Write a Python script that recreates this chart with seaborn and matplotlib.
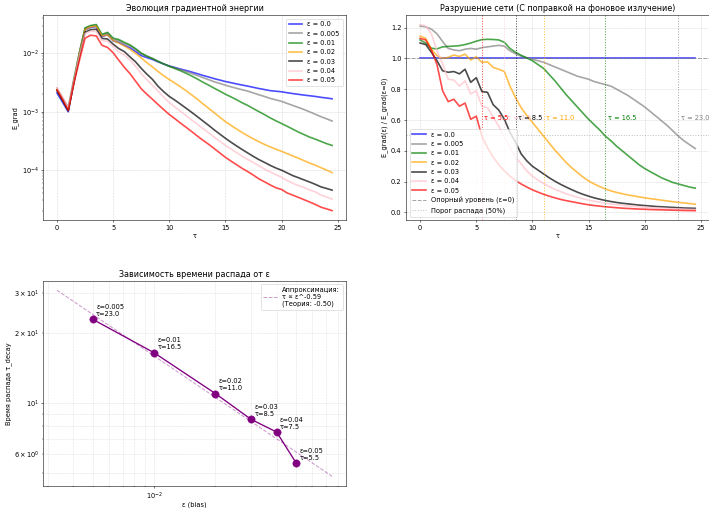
import numpy as np
import pandas as pd
import seaborn as sns
import matplotlib.pyplot as plt

# time grid (tau) and energies
tau = np.arange(0, 25, 0.5)

# E_grad for eps = 0 (baseline, blue line in the left panel)
e_grad_base = [2.1e-3, 1.45e-3, 1.0e-3, 3.2e-3, 9.7e-3, 2.55e-2, 2.8e-2, 2.9e-2, 1.95e-2, 2.1e-2,
               1.65e-2, 1.55e-2, 1.38e-2, 1.25e-2, 1.08e-2, 9.2e-3, 8.5e-3, 7.9e-3, 7.2e-3, 6.6e-3,
               6.1e-3, 5.75e-3, 5.4e-3, 5.1e-3, 4.8e-3, 4.5e-3, 4.2e-3, 3.95e-3, 3.7e-3, 3.5e-3,
               3.3e-3, 3.15e-3, 3.0e-3, 2.87e-3, 2.75e-3, 2.62e-3, 2.5e-3, 2.4e-3, 2.3e-3, 2.25e-3,
               2.2e-3, 2.12e-3, 2.05e-3, 1.99e-3, 1.93e-3, 1.88e-3, 1.83e-3, 1.77e-3, 1.72e-3, 1.67e-3]

# ratio E_grad(eps) / E_grad(eps=0)
ratio_0 = [1.0] * 50
ratio_0005 = [1.21, 1.205, 1.19, 1.16, 1.11, 1.065, 1.055, 1.05, 1.06, 1.065,
              1.06, 1.07, 1.075, 1.08, 1.085, 1.08, 1.05, 1.03, 1.015, 1.005,
              0.995, 0.985, 0.975, 0.96, 0.945, 0.93, 0.915, 0.9, 0.885, 0.875,
              0.865, 0.85, 0.84, 0.83, 0.82, 0.80, 0.78, 0.76, 0.735, 0.71,
              0.685, 0.655, 0.625, 0.595, 0.565, 0.53, 0.495, 0.465, 0.44, 0.415]
ratio_001 = [1.12, 1.10, 1.066, 1.062, 1.075, 1.078, 1.08, 1.083, 1.09, 1.10,
             1.112, 1.122, 1.124, 1.123, 1.12, 1.105, 1.065, 1.04, 1.02, 1.003,
             0.985, 0.96, 0.935, 0.895, 0.855, 0.81, 0.765, 0.725, 0.685, 0.645,
             0.605, 0.57, 0.535, 0.495, 0.465, 0.43, 0.40, 0.37, 0.34, 0.31,
             0.285, 0.265, 0.245, 0.225, 0.21, 0.195, 0.185, 0.175, 0.165, 0.158]
ratio_002 = [1.145, 1.13, 1.06, 1.018, 1.0, 1.007, 1.022, 1.013, 1.028, 0.99,
             1.011, 0.974, 0.978, 0.942, 0.93, 0.915, 0.82, 0.745, 0.68, 0.63,
             0.585, 0.54, 0.495, 0.45, 0.405, 0.365, 0.325, 0.29, 0.26, 0.23,
             0.205, 0.185, 0.168, 0.153, 0.14, 0.13, 0.122, 0.114, 0.108, 0.101,
             0.095, 0.09, 0.085, 0.08, 0.075, 0.07, 0.066, 0.062, 0.058, 0.054]
ratio_003 = [1.10, 1.09, 1.04, 0.985, 0.92, 0.91, 0.915, 0.9, 0.93, 0.845,
             0.875, 0.785, 0.78, 0.70, 0.665, 0.605, 0.52, 0.455, 0.38, 0.335,
             0.30, 0.275, 0.25, 0.225, 0.203, 0.183, 0.165, 0.148, 0.132, 0.118,
             0.106, 0.095, 0.086, 0.078, 0.071, 0.065, 0.06, 0.056, 0.052, 0.048,
             0.045, 0.042, 0.039, 0.037, 0.035, 0.033, 0.031, 0.029, 0.028, 0.027]
ratio_004 = [1.22, 1.21, 1.16, 1.05, 0.965, 0.865, 0.86, 0.82, 0.855, 0.77,
             0.79, 0.69, 0.68, 0.62, 0.56, 0.49, 0.42, 0.36, 0.315, 0.27,
             0.235, 0.21, 0.188, 0.168, 0.15, 0.136, 0.122, 0.11, 0.099, 0.089,
             0.08, 0.073, 0.066, 0.06, 0.055, 0.051, 0.047, 0.043, 0.04, 0.037,
             0.034, 0.031, 0.029, 0.027, 0.026, 0.024, 0.023, 0.021, 0.02, 0.019]
ratio_005 = [1.13, 1.12, 1.055, 0.96, 0.79, 0.72, 0.735, 0.69, 0.71, 0.605,
             0.625, 0.495, 0.42, 0.36, 0.31, 0.27, 0.235, 0.207, 0.185, 0.165,
             0.147, 0.132, 0.118, 0.106, 0.095, 0.085, 0.077, 0.07, 0.063, 0.056,
             0.05, 0.045, 0.041, 0.037, 0.034, 0.031, 0.028, 0.026, 0.024, 0.022,
             0.021, 0.019, 0.018, 0.017, 0.016, 0.015, 0.014, 0.013, 0.0125, 0.012]

eps_values = [0.0, 0.005, 0.01, 0.02, 0.03, 0.04, 0.05]
ratios = [ratio_0, ratio_0005, ratio_001, ratio_002, ratio_003, ratio_004, ratio_005]
colors = ['blue', 'gray', 'green', 'orange', 'black', 'pink', 'red']

# decay times (first tau where ratio < 0.5)
decay_eps = [0.005, 0.01, 0.02, 0.03, 0.04, 0.05]
decay_tau = [23.0, 16.5, 11.0, 8.5, 7.5, 5.5]

rows = []
for eps, r in zip(eps_values, ratios):
    for t, e0, rv in zip(tau, e_grad_base, r):
        rows.append({'tau': t, 'eps': eps, 'ratio': rv, 'E_grad': e0 * rv})
df = pd.DataFrame(rows)

dpi = 48
fig, axes = plt.subplots(2, 2, figsize=(709 / dpi, 508 / dpi), dpi=dpi)
fig.subplots_adjust(left=0.061, right=1.0, top=0.970, bottom=0.044, wspace=0.2, hspace=0.298)

# 1. energy evolution
ax = axes[0, 0]
for eps, c in zip(eps_values, colors):
    d = df[df['eps'] == eps]
    sns.lineplot(x=d['tau'], y=d['E_grad'], color=c, linewidth=2.5, alpha=0.7,
                 label=f'ε = {eps}', ax=ax)
ax.set_yscale('log')
ax.set_title('Эволюция градиентной энергии')
ax.set_xlabel('τ')
ax.set_ylabel('E_grad')
ax.grid(True, linestyle='--', alpha=0.5)
ax.legend(loc='upper right')

# 2. network breakdown (ratio)
ax = axes[0, 1]
for eps, c in zip(eps_values, colors):
    d = df[df['eps'] == eps]
    sns.lineplot(x=d['tau'], y=d['ratio'], color=c, linewidth=2.5, alpha=0.7,
                 label=f'ε = {eps}', ax=ax)
ax.axhline(1.0, color='gray', linestyle='--', alpha=0.7, label='Опорный уровень (ε=0)')
ax.axhline(0.5, color='gray', linestyle=':', alpha=0.5, label='Порог распада (50%)')
for eps, t in zip(decay_eps, decay_tau):
    c = colors[eps_values.index(eps)]
    ax.axvline(t, color=c, linestyle=':', alpha=0.7)
    ax.text(t + 0.2, 0.6, f'τ = {t}', color=c, fontsize=10)
ax.set_title('Разрушение сети (С поправкой на фоновое излучение)')
ax.set_xlabel('τ')
ax.set_ylabel('E_grad(ε) / E_grad(ε=0)')
ax.grid(True, linestyle='--', alpha=0.5)
ax.legend(loc='lower left')

# 3. decay time vs eps
ax = axes[1, 0]
sns.lineplot(x=decay_eps, y=decay_tau, color='purple', marker='o', markersize=11,
             markeredgecolor='purple', linewidth=2, ax=ax)
coef = np.polyfit(np.log(decay_eps), np.log(decay_tau), 1)
eps_fit = np.logspace(np.log10(min(decay_eps) / 1.5), np.log10(max(decay_eps) * 1.5), 50)
tau_fit = np.exp(coef[1]) * eps_fit ** coef[0]
ax.plot(eps_fit, tau_fit, '--', color='purple', alpha=0.4, linewidth=1.5,
        label=f'Аппроксимация:\nτ ∝ ε^{coef[0]:.2f}\n(Теория: -0.50)')
for e, t in zip(decay_eps, decay_tau):
    ax.annotate(f'ε={e}\nτ={t}', (e, t), xytext=(5, 5), textcoords='offset points', fontsize=10)
ax.set_xscale('log')
ax.set_yscale('log')
ax.set_title('Зависимость времени распада от ε')
ax.set_xlabel('ε (bias)', labelpad=0.5)
ax.set_ylabel('Время распада τ_decay')
ax.grid(True, which='both', linestyle='--', alpha=0.4)
ax.legend(loc='upper right')

axes[1, 1].axis('off')

plt.savefig('out.png', dpi=dpi)
plt.close()
